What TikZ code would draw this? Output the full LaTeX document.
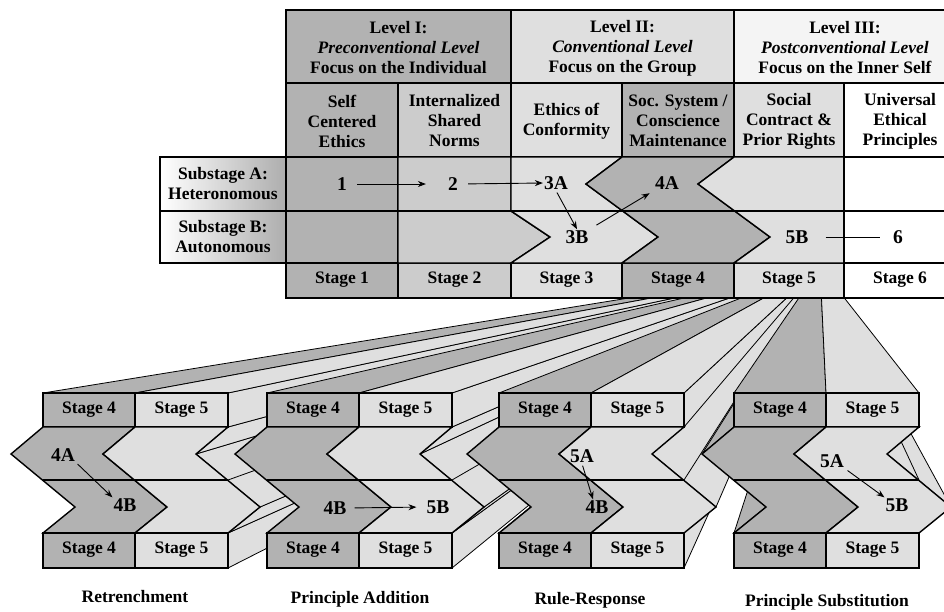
\documentclass[tikz,border=0pt]{standalone}
\usepackage{fontspec}
\setmainfont{Liberation Serif}
\usetikzlibrary{positioning, arrows.meta, calc}
\definecolor{stagedark}{gray}{0.70}
\definecolor{stagemid}{gray}{0.80}
\definecolor{stagelight}{gray}{0.875}
\definecolor{stagepale}{gray}{0.955}
\tikzstyle{arrow} = [line width=0.9pt, -{Stealth[length=8pt, width=6pt]}]
\tikzstyle{cell} = [draw, line width=1.4pt]
\tikzstyle{face} = [draw, line width=0.8pt, line join=round]
\tikzstyle{txt} = [align=center, inner sep=1pt, font=\bfseries\fontsize{17.5}{20}\selectfont]
\tikzstyle{num} = [inner sep=1pt, font=\bfseries\fontsize{19.5}{20}\selectfont]

\begin{document}
\begin{tikzpicture}[x=1pt, y=-1pt]
\useasboundingbox (0,0) rectangle (944,611);
\coordinate (V) at (820,267);

\foreach \bx/\bn in {43/1, 267/2, 499/3, 734/4}{
  \pgfmathsetmacro{\bb}{\bx+92}
  \pgfmathsetmacro{\bc}{\bx+185}
  \pgfmathtruncatemacro{\rzero}{\bc<820}
  \pgfmathtruncatemacro{\rone}{\bc<630}
  \pgfmathtruncatemacro{\rthree}{\bc<493}
  \pgfmathtruncatemacro{\lone}{\bx>630}
  \pgfmathtruncatemacro{\lthree}{\bx>493}
  \ifnum\rzero=1 \filldraw [face, fill=stagelight] (\bc,533) -- (\bc,568) -- (V) -- cycle; \fi
  \ifnum\rthree=1 \filldraw [face, fill=stagelight] (\bc+32,507) -- (\bc,533) -- (V) -- cycle; \fi
  \filldraw [face, fill=stagelight] (\bc-32,454) -- (\bc+32,507) -- (V) -- cycle;
  \draw [face] (\bc,480) -- (V);
  \ifnum\rone=1 \filldraw [face, fill=stagelight] (\bc,427) -- (\bc-32,454) -- (V) -- cycle; \fi
  \ifnum\rzero=1 \filldraw [face, fill=stagelight] (\bc,393) -- (\bc,427) -- (V) -- cycle; \fi
  \ifnum\lthree=1 \filldraw [face, fill=stagedark] (\bx+32,507) -- (\bx,533) -- (V) -- cycle; \fi
  \ifnum\lone=1 \filldraw [face, fill=stagedark] (\bx,427) -- (\bx-32,454) -- (V) -- cycle; \fi
  \filldraw [face, fill=stagedark] (\bx,393) -- (\bb,393) -- (V) -- cycle;
  \filldraw [face, fill=stagelight] (\bb,393) -- (\bc,393) -- (V) -- cycle;
  % front of the block
  \filldraw [cell, fill=stagedark] (\bx,393) rectangle (\bb,427);
  \filldraw [cell, fill=stagelight] (\bb,393) rectangle (\bc,427);
  \filldraw [cell, fill=stagedark] (\bx,427) -- (\bb,427) -- (\bb-32,454) -- (\bb+32,507) -- (\bb,533) -- (\bx,533) -- (\bx+32,507) -- (\bx-32,454) -- cycle;
  \filldraw [cell, fill=stagelight] (\bb,427) -- (\bc,427) -- (\bc-32,454) -- (\bc+32,507) -- (\bc,533) -- (\bb,533) -- (\bb+32,507) -- (\bb-32,454) -- cycle;
  \draw [cell] (\bx,480) -- (\bc,480);
  \filldraw [cell, fill=stagedark] (\bx,533) rectangle (\bb,568);
  \filldraw [cell, fill=stagelight] (\bb,533) rectangle (\bc,568);
  \node (upfour\bn) [txt] at (\bx+46,410) {Stage 4};
  \node (upfive\bn) [txt] at (\bb+46.5,410) {Stage 5};
  \node (lowfour\bn) [txt] at (\bx+46,550) {Stage 4};
  \node (lowfive\bn) [txt] at (\bb+46.5,550) {Stage 5};
}

\node (retA) [num] at (63,455) {4A};
\node (retB) [num] at (125,505) {4B};
\draw [arrow, shorten <=2pt] (retA.south east) -- (retB.north west);
\node (addB) [num] at (335,508) {4B};
\node (addC) [num] at (438,507) {5B};
\draw [arrow, shorten <=7pt, shorten >=9pt] (addB.east) -- (addC.west);
\node (ruleA) [num] at (582,456) {5A};
\node (ruleB) [num] at (597,507) {4B};
\draw [arrow, shorten <=2pt] (ruleA.south) -- ([xshift=-4pt]ruleB.north);
\node (subsA) [num] at (832,461) {5A};
\node (subsB) [num] at (897,505) {5B};
\draw [arrow, shorten <=3pt] (subsA.south east) -- (subsB.north west);

\node (retname) [txt] at (135,597) {Retrenchment};
\node (addname) [txt] at (360,599) {Principle Addition};
\node (rulename) [txt] at (590,600) {Rule-Response};
\node (subsname) [txt] at (827,602) {Principle Substitution};

% the stage table
\filldraw [cell, fill=stagelight] (511,10) rectangle (734,83);
\filldraw [cell, fill=stagepale] (734,10) rectangle (956,83);
\draw [line width=2.6pt] (511,10) -- (956,10) (734,83) -- (956,83);
\filldraw [cell, line width=2.6pt, fill=stagedark] (286,10) rectangle (511,83);
\node (levelone) [txt] at (398.5,48) {Level I:\\\textit{Preconventional Level}\\Focus on the Individual};
\node (leveltwo) [txt] at (622.5,48) {Level II:\\\textit{Conventional Level}\\Focus on the Group};
\node (levelthree) [txt] at (845,48) {Level III:\\\textit{Postconventional Level}\\Focus on the Inner Self};

\foreach \xl/\xr/\col/\what/\k in {286/398/stagedark/{Self\\Centered\\Ethics}/1,
    398/511/stagemid/{Internalized\\Shared\\Norms}/2,
    511/622/stagelight/{Ethics of\\Conformity}/3,
    622/734/stagedark/{Soc. System /\\Conscience\\Maintenance}/4,
    734/844/stagelight/{Social\\Contract \&\\Prior Rights}/5,
    844/956/white/{Universal\\Ethical\\Principles}/6}{
  \filldraw [cell, fill=\col] (\xl,83) rectangle (\xr,157);
  \node (ethic\k) [txt] at ({(\xl+\xr)/2},121) {\what};
  \filldraw [cell, fill=\col] (\xl,263) rectangle (\xr,298);
  \node (stage\k) [txt] at ({(\xl+\xr)/2},280) {Stage \k};
}

\filldraw [cell, fill=stagedark] (286,157) rectangle (398,263);
\filldraw [cell, fill=stagemid] (398,157) -- (511,157) -- (511,211) -- (550,237) -- (511,263) -- (398,263) -- cycle;
\filldraw [cell, fill=stagelight] (511,157) -- (622,157) -- (586,184) -- (658,237) -- (622,263) -- (511,263) -- (550,237) -- (511,211) -- cycle;
\filldraw [cell, fill=stagedark] (622,157) -- (734,157) -- (698,184) -- (770,237) -- (734,263) -- (622,263) -- (658,237) -- (586,184) -- cycle;
\filldraw [cell, fill=stagelight] (734,157) -- (844,157) -- (844,263) -- (734,263) -- (770,237) -- (698,184) -- cycle;
\filldraw [cell, fill=white] (844,157) rectangle (956,263);
\draw [cell] (286,211) -- (956,211);

\draw [cell, left color=white, right color=black!32] (160,157) rectangle (286,211);
\draw [cell, left color=white, right color=black!32] (160,211) rectangle (286,263);
\node (subA) [txt] at (223,184) {Substage A:\\Heteronomous};
\node (subB) [txt] at (223,237) {Substage B:\\Autonomous};

\node (one) [num] at (342,184) {1};
\node (two) [num] at (453,184) {2};
\node (threeA) [num] at (556,183) {3A};
\node (fourA) [num] at (667,183) {4A};
\node (threeB) [num] at (577,237) {3B};
\node (fiveB) [num] at (797,237) {5B};
\node (six) [num] at (898,237) {6};
\draw [arrow, shorten <=9pt, shorten >=21pt] (one.east) -- (two.west);
\draw [arrow, shorten <=9pt] (two.east) -- (threeA.west);
\draw [arrow, shorten <=2pt] (threeA.south) -- (threeB.north);
\draw [arrow, shorten <=8pt, shorten >=5pt] (threeB.north east) -- (fourA.south west);
\draw [line width=0.9pt, shorten <=16pt, shorten >=12pt] (fiveB.east) -- (six.west);
\end{tikzpicture}
\end{document}
